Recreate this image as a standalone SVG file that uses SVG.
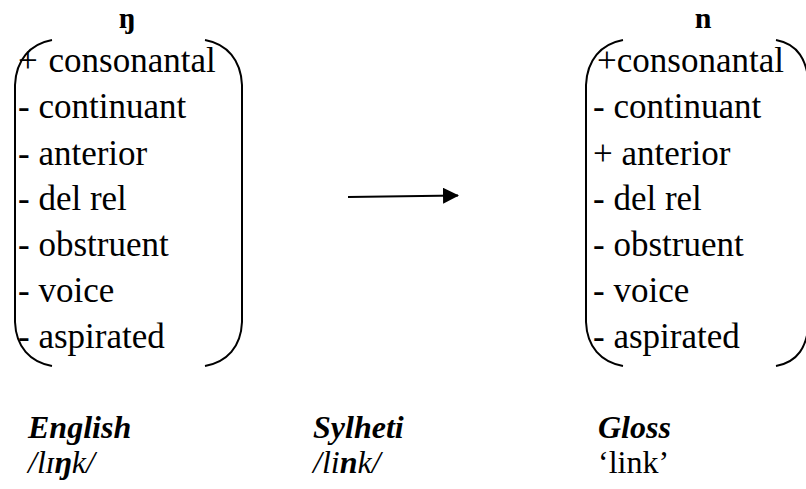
<svg xmlns="http://www.w3.org/2000/svg" width="806" height="489" viewBox="0 0 806 489">
  <style>
    .feat { font-size: 35px; fill: #000; }
    .head { font-size: 30px; font-weight: bold; fill: #000; text-anchor: middle; }
    .lab { font-size: 32px; fill: #000; }
    .bi { font-weight: bold; font-style: italic; }
    .it { font-style: italic; }
    .bracket { fill: none; stroke: #000; stroke-width: 2; }
  </style>
  <defs>
    <marker id="arrowhead" viewBox="0 0 16 16" refX="15" refY="8" markerWidth="16" markerHeight="16" markerUnits="userSpaceOnUse" orient="auto">
      <path d="M0 0 L16 8 L0 16 Z" fill="#000"/>
    </marker>
  </defs>

  <!-- Feature matrix for the velar nasal -->
  <g id="matrix-eng" font-family="Liberation Serif, Times New Roman, serif">
    <text class="head" x="127" y="28">ŋ</text>
    <path class="bracket" d="M52 40 C30 44 16 60 15 85 V322 C16 347 30 362 52 366"/>
    <path class="bracket" d="M205 40 C227 44 241 60 242 85 V322 C241 347 227 362 205 366"/>
    <text class="feat" x="18" y="72">+<tspan dx="2"> consonantal</tspan></text>
    <text class="feat" x="18" y="118">- continuant</text>
    <text class="feat" x="18" y="165">- anterior</text>
    <text class="feat" x="18" y="210">- del rel</text>
    <text class="feat" x="18" y="256">- obstruent</text>
    <text class="feat" x="18" y="302">- voice</text>
    <text class="feat" x="18" y="348">- aspirated</text>
  </g>

  <!-- Feature matrix for the alveolar nasal -->
  <g id="matrix-syl" font-family="Liberation Serif, Times New Roman, serif">
    <text class="head" x="703" y="28">n</text>
    <path class="bracket" d="M623 40 C601 44 587 60 586 85 V322 C587 347 601 362 623 366"/>
    <path class="bracket" d="M776 40 C798 44 807 60 809 85 V322 C807 347 798 362 776 366"/>
    <text class="feat" x="597" y="72">+consonantal</text>
    <text class="feat" x="593" y="118">- continuant</text>
    <text class="feat" x="593" y="165">+ anterior</text>
    <text class="feat" x="593" y="210">- del rel</text>
    <text class="feat" x="593" y="256">- obstruent</text>
    <text class="feat" x="593" y="302">- voice</text>
    <text class="feat" x="593" y="348">- aspirated</text>
  </g>

  <!-- Connector -->
  <g id="connectors">
    <line x1="348" y1="197" x2="458" y2="195.5" stroke="#000" stroke-width="2" marker-end="url(#arrowhead)"/>
  </g>

  <!-- Example table -->
  <g id="col-english" font-family="Liberation Serif, Times New Roman, serif">
    <text class="lab bi" x="28" y="438">English</text>
    <text class="lab it" x="28" y="473">/lɪ<tspan font-weight="bold">ŋ</tspan>k/</text>
  </g>
  <g id="col-sylheti" font-family="Liberation Serif, Times New Roman, serif">
    <text class="lab bi" x="313" y="438">Sylheti</text>
    <text class="lab it" x="313" y="473">/li<tspan font-weight="bold">n</tspan>k/</text>
  </g>
  <g id="col-gloss" font-family="Liberation Serif, Times New Roman, serif">
    <text class="lab bi" x="598" y="438">Gloss</text>
    <text class="lab" x="598" y="473">‘link’</text>
  </g>
</svg>
